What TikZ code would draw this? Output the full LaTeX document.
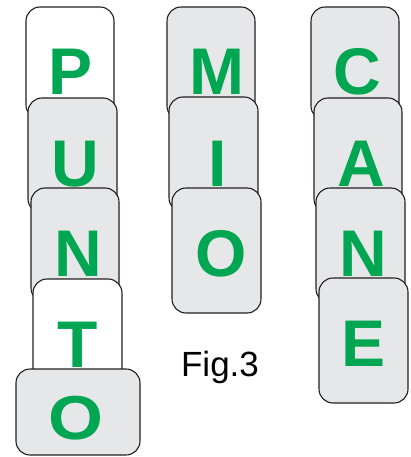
\documentclass[tikz,border=0pt]{standalone}
\usepackage{fontspec}
\setmainfont{Liberation Sans}
\definecolor{lettergreen}{RGB}{0,166,81}
\definecolor{cardgray}{RGB}{230,231,232}
\definecolor{cardline}{RGB}{35,31,32}
\tikzset{
 card/.style={draw=cardline,line width=1.1pt,fill=cardgray,rounded corners=14pt,inner sep=0pt},
 blank card/.style={card,fill=white},
 size/.style 2 args={minimum width=#1pt,minimum height=#2pt},
 letter/.style={text=lettergreen,font=\fontsize{66}{66}\selectfont\bfseries,inner sep=0pt,anchor=base}
}

\begin{document}
\begin{tikzpicture}[x=1pt,y=-1pt]
\useasboundingbox (0,0) rectangle (411,457);

% first column: P U N T O
\node[blank card,size={88}{112}] (cardP) at (70,63) {};
\node[letter] (P) at (71,95) {P};
\node[card,size={89}{115}] (cardU) at (72.5,155.5) {};
\node[letter] (U) at (75,186) {U};
\node[card,size={88}{114}] (cardN) at (75,245) {};
\node[letter] (N) at (78,276) {N};
\node[blank card,size={89}{113}] (cardT) at (77.5,335.5) {};
\node[letter] (T) at (78,367) {T};
\node[card,size={124}{86}] (cardO) at (78,412) {};
\node[letter,anchor=center,xscale=1.07,yscale=0.94] (O) at (75.5,418) {O};

% second column: M I O
\node[card,size={88}{113}] (cardM) at (211,63.5) {};
\node[letter] (M) at (217,95) {M};
\node[card,size={89}{115}] (cardI) at (213.5,154.5) {};
\node[letter] (I) at (218,186) {I};
\node[card,size={89}{125}] (cardOb) at (216.5,250.5) {};
\node[letter] (Ob) at (221,276) {O};

% third column: C A N E
\node[card,size={88}{113}] (cardC) at (355,63.5) {};
\node[letter] (C) at (357,95) {C};
\node[card,size={88}{115}] (cardA) at (358,155.5) {};
\node[letter] (A) at (361,186) {A};
\node[card,size={89}{115}] (cardNc) at (360.5,245.5) {};
\node[letter] (Nc) at (363,276) {N};
\node[card,size={89}{125}] (cardE) at (363.5,340.5) {};
\node[letter] (E) at (364,366) {E};

\node[anchor=base,font=\fontsize{35}{35}\selectfont,inner sep=0pt] (caption) at (220,376) {Fig.3};
\end{tikzpicture}
\end{document}
